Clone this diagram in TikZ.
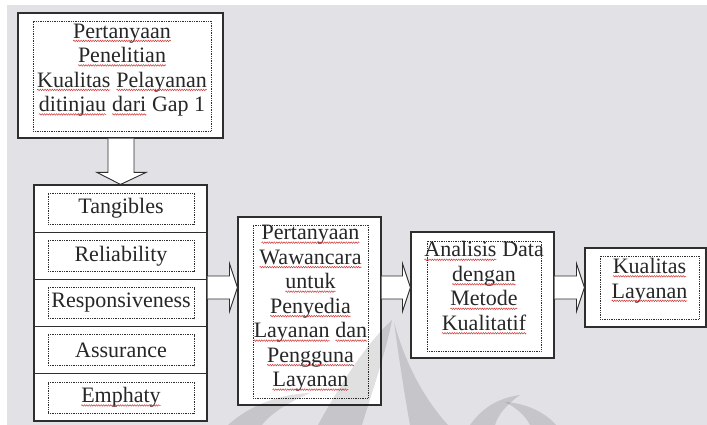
\documentclass[tikz,border=0pt]{standalone}
\usepackage{fontspec}
\setmainfont{Liberation Serif}
\usetikzlibrary{decorations.pathmorphing}
\definecolor{bg}{HTML}{E2E2E6}
\definecolor{edge}{HTML}{2E2E2E}
\definecolor{squig}{HTML}{D03030}
\newcommand\sq[1]{\tikz[baseline=(w.base),x=1pt,y=1pt]{\node[inner sep=0pt,outer sep=0pt,draw=none,fill=none,shape=rectangle,minimum width=0pt,minimum height=0pt,anchor=center](w){#1};\draw[squig,line width=0.45pt,decorate,decoration={snake,amplitude=0.8pt,segment length=2.4pt}]([yshift=-2.8pt]w.base west)--([yshift=-2.8pt]w.base east);}}
\begin{document}
\begin{tikzpicture}[x=1pt,y=-1pt,
  obox/.style 2 args={draw=edge,line width=1.1pt,fill=white,minimum width=#1,minimum height=#2,inner sep=0pt},
  ibox/.style 2 args={draw=edge,line width=0.75pt,densely dotted,minimum width=#1,minimum height=#2,inner sep=0pt},
  txt/.style={font=\fontsize{22}{24.5}\selectfont,align=center,inner sep=0pt,text=black!85},
  arr/.style={draw=edge,line width=0.9pt,fill=white,line join=miter}]
\useasboundingbox (0,0) rectangle (707,425);
\fill[white] (0,0) rectangle (707,425);
\fill[bg] (7,5) rectangle (707,425);
% top box
\node[obox={205pt}{125pt}] (q) at (120.5,75.5) {};
\node[ibox={178pt}{110pt}] (qi) at (122,76) {};
\node[txt] (qt) at (122,70) {\sq{Pertanyaan}\\\sq{Penelitian}\\\sq{Kualitas} \sq{Pelayanan}\\\sq{ditinjau} \sq{dari} Gap 1};
% stack
\foreach \i/\y in {1/208.6,2/255.8,3/303,4/350.2,5/397.4}{
  \node[obox={173pt}{47.2pt}] (c\i) at (120.5,\y) {};
  \node[ibox={146pt}{31pt}] (ci\i) at (121,\y) {};
}
\node[txt] (t1) at (ci1) {Tangibles};
\node[txt] (t2) at (ci2) {Reliability};
\node[txt] (t3) at (ci3) {Responsiveness};
\node[txt] (t4) at (ci4) {Assurance};
\node[txt] (t5) at (ci5) {\sq{Emphaty}};
% box 2
\node[obox={143pt}{188pt}] (b2) at (309.5,311) {};
\node[ibox={115pt}{173pt}] (b2i) at (310.5,311.5) {};
\node[txt] (b2t) at (310.5,308.5) {\sq{Pertanyaan}\\\sq{Wawancara}\\\sq{untuk}\\\sq{Penyedia}\\\sq{Layanan} \sq{dan}\\\sq{Pengguna}\\\sq{Layanan}};
% box 3
\node[obox={143pt}{126pt}] (b3) at (482.5,295) {};
\node[ibox={114pt}{110pt}] (b3i) at (484,296) {};
\node[txt] (b3t) at (484,288) {\sq{Analisis} Data\\\sq{dengan}\\\sq{Metode}\\\sq{Kualitatif}};
% box 4
\node[obox={121pt}{79pt}] (b4) at (645.5,287.5) {};
\node[ibox={99pt}{63pt}] (b4i) at (649.5,287.5) {};
\node[txt] (b4t) at (649.5,280.5) {\sq{Kualitas}\\\sq{Layanan}};
% down arrow
\draw[arr] ([xshift=-12.5pt]q.south) -- ([xshift=-12.5pt,yshift=12pt]c1.north) -- ([xshift=-23.5pt,yshift=12pt]c1.north) -- (c1.north) -- ([xshift=25.5pt,yshift=12pt]c1.north) -- ([xshift=13.5pt,yshift=12pt]c1.north) -- ([xshift=13.5pt]q.south);
% right arrows
\coordinate (a1s) at ([yshift=15.5pt]c3.east);
\coordinate (a1t) at (a1s -| b2.west);
\coordinate (a2s) at (b2.east |- a1s);
\coordinate (a2t) at (a2s -| b3.west);
\coordinate (a3s) at (b3.east |- a1s);
\coordinate (a3t) at (a3s -| b4.west);
\foreach \s/\t in {a1s/a1t,a2s/a2t,a3s/a3t}{
  \draw[arr] ([yshift=11.5pt]\s) -- ([xshift=-8pt,yshift=11.5pt]\t) -- ([xshift=-8pt,yshift=24pt]\t) -- (\t) -- ([xshift=-8pt,yshift=-24pt]\t) -- ([xshift=-8pt,yshift=-11.5pt]\t) -- ([yshift=-11.5pt]\s);
}
% faint watermark
\begin{scope}[fill=black,opacity=0.12]
\fill (318,425) .. controls (340,385) and (365,345) .. (392,320) .. controls (386,352) and (372,392) .. (362,425) -- cycle;
\fill (394,322) .. controls (402,352) and (418,392) .. (448,425) -- (410,425) .. controls (404,392) and (398,352) .. cycle;
\fill (228,425) .. controls (250,405) and (280,394) .. (310,393) .. controls (290,402) and (272,412) .. (262,425) -- cycle;
\fill (470,425) .. controls (482,408) and (498,398) .. (520,395) .. controls (506,405) and (498,415) .. (495,425) -- cycle;
\fill (505,402) .. controls (525,403) and (545,412) .. (556,425) -- (530,425) .. controls (525,415) and (515,407) .. cycle;
\end{scope}
\end{tikzpicture}
\end{document}
